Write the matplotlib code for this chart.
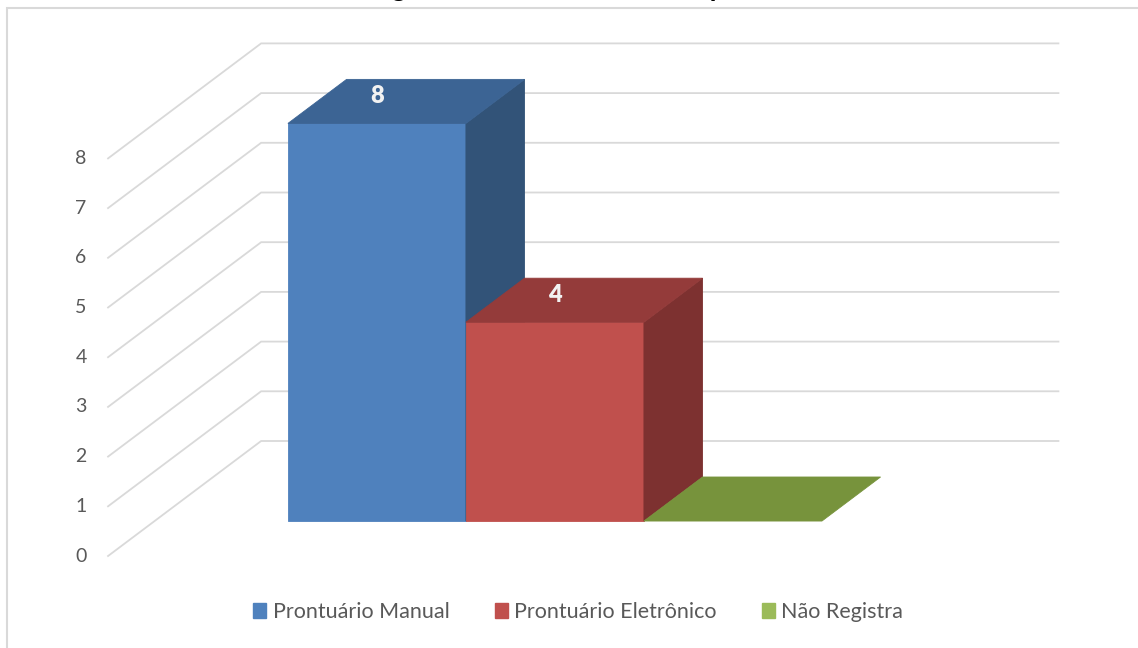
import matplotlib
matplotlib.use("Agg")
import matplotlib.pyplot as plt
from matplotlib.patches import Polygon, Patch, Rectangle


categories = ["Prontuário Manual", "Prontuário Eletrônico", "Não Registra"]
values = [8, 4, 0]
y_ticks = [0, 1, 2, 3, 4, 5, 6, 7, 8]
title = "Registro de atendimento do paciente"

_FRONT = ["#4f81bd", "#c0504d", "#9bbb59"]
_SIDE = ["#325378", "#7d3130", "#5f7630"]
_TOP = ["#3c6494", "#943b3a", "#77933c"]

# oblique projection: depth d in [0, 1] shifts right and up
_DX = 0.86
_DY = 2.314
_BAR_FRONT = 0.304
_BAR_BACK = 0.687
_WALL_LEFT = -0.749
_WALL_RIGHT = 3.73

_GRID = "#d9d9d9"
_TEXT = "#595959"
_FONT = "Lato"


def _project(c, v, d):
    return (c + d * _DX, v + d * _DY)


def _face(ax, pts, color, z):
    poly = Polygon([_project(*p) for p in pts], closed=True,
                   facecolor=color, edgecolor=color, lw=0.6, zorder=z)
    ax.add_patch(poly)


def _draw_walls(ax):
    for v in y_ticks:
        x0, y0 = _project(_WALL_LEFT, v, 0.)
        x1, y1 = _project(_WALL_LEFT, v, 1.)
        x2, y2 = _project(_WALL_RIGHT, v, 1.)
        ax.plot([x0, x1, x2], [y0, y1, y2], color=_GRID, lw=1.3,
                zorder=1, solid_joinstyle="miter")
        ax.text(x0 - 0.12, y0, str(v), ha="right", va="center",
                fontsize=14, color=_TEXT, family=_FONT)


def _draw_bar(ax, i, val):
    f, b = _BAR_FRONT, _BAR_BACK
    z = 2 + i
    if val > 0:
        _face(ax, [(i, 0, f), (i + 1, 0, f), (i + 1, val, f), (i, val, f)],
              _FRONT[i], z)
        _face(ax, [(i + 1, 0, f), (i + 1, 0, b), (i + 1, val, b),
                   (i + 1, val, f)], _SIDE[i], z)
    _face(ax, [(i, val, f), (i, val, b), (i + 1, val, b), (i + 1, val, f)],
          _TOP[i], z)
    if val > 0:
        x, y = _project(i + 0.5, val + 0.55, f)
        ax.text(x, y, str(val), ha="center", va="center", fontsize=17,
                fontweight="heavy", color="#f2f2f2", family=_FONT, zorder=10)


fig = plt.figure(figsize=(11.38, 6.48), dpi=100)
ax = fig.add_axes([0, 0, 1, 1])
ax.set_xlim(-1.356, 5.037)
ax.set_ylim(-1.851, 11.187)
ax.axis("off")

fig.patches.append(Rectangle((7 / 1138, -0.01), 1.02, 1 - 8 / 648 + 0.01,
                             transform=fig.transFigure, fill=False,
                             edgecolor="#d9d9d9", lw=1.5))

# the title sits above the top edge, only its descenders show
fig.text(0.516, 1 + 4 / 648, title, ha="center", va="baseline",
         fontsize=20, fontweight="bold", color="black", family=_FONT)

_draw_walls(ax)
for i, val in enumerate(values):
    _draw_bar(ax, i, val)

handles = [Patch(facecolor=c, edgecolor=c) for c in _FRONT]
ax.legend(handles, categories, loc="center",
          bbox_to_anchor=(0.508, 1 - 612 / 648), ncol=3, frameon=False,
          handlelength=0.6, handleheight=0.7, handletextpad=0.3,
          columnspacing=2.1,
          prop={"family": _FONT, "size": 15.5}, labelcolor=_TEXT)

fig.savefig("out.png", dpi=100)
